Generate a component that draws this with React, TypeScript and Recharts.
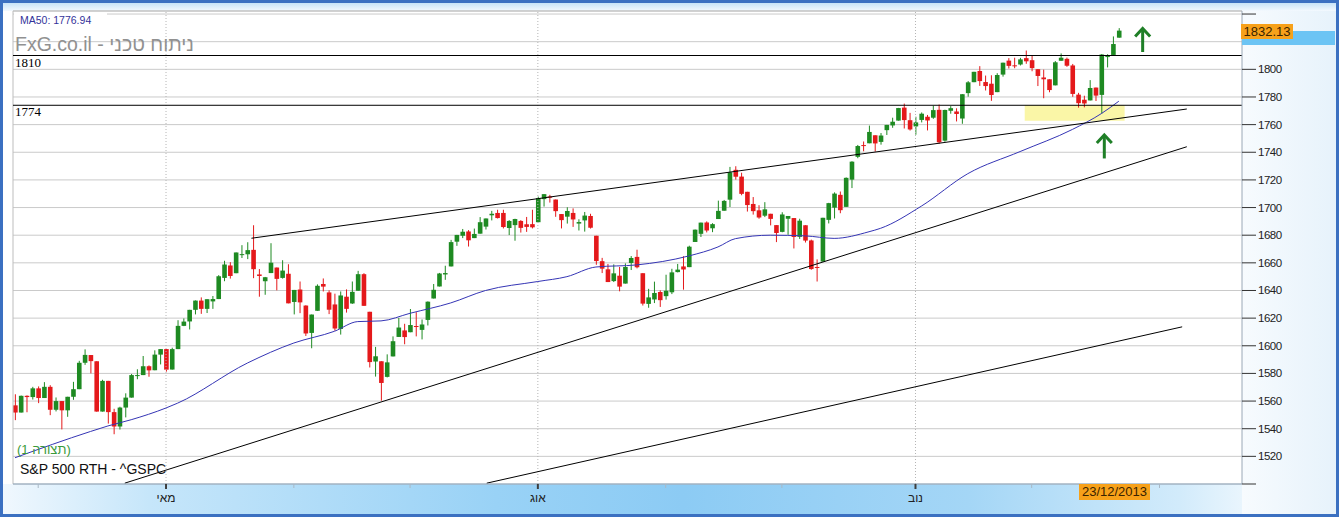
import React from "react";
import {
  ComposedChart,
  Bar,
  Line,
  XAxis,
  YAxis,
  CartesianGrid,
  ReferenceLine,
  ReferenceArea,
  ReferenceDot,
} from "recharts";

// S&P 500 daily candles 25/03/2013 .. 23/12/2013 : [open, high, low, close]
const candles: number[][] = [
  // Mar
  [1556.9, 1564.9, 1546.2, 1551.7], [1551.7, 1564.0, 1551.7, 1563.8], [1563.8, 1564.1, 1551.9, 1562.9],
  [1562.9, 1570.3, 1561.1, 1569.2],
  // Apr
  [1569.2, 1570.6, 1558.5, 1562.2], [1562.2, 1573.7, 1562.2, 1570.3], [1570.3, 1571.5, 1549.8, 1553.7],
  [1553.7, 1562.6, 1552.5, 1560.0], [1560.0, 1560.0, 1539.5, 1553.3], [1553.3, 1563.1, 1548.6, 1563.1],
  [1563.1, 1573.9, 1560.9, 1568.6], [1568.6, 1589.1, 1568.6, 1587.7], [1587.7, 1597.4, 1586.2, 1593.4],
  [1593.3, 1593.3, 1580.0, 1588.9], [1588.8, 1588.8, 1552.3, 1552.4], [1552.4, 1575.4, 1552.4, 1574.6],
  [1574.6, 1574.6, 1543.7, 1552.0], [1552.0, 1554.4, 1536.0, 1541.6], [1541.6, 1555.9, 1539.4, 1555.3],
  [1555.3, 1565.6, 1548.2, 1562.5], [1562.5, 1579.6, 1562.5, 1578.8], [1578.7, 1583.0, 1575.8, 1578.8],
  [1578.8, 1592.6, 1578.8, 1585.2], [1585.2, 1585.8, 1577.6, 1582.2], [1582.3, 1596.7, 1582.3, 1593.6],
  [1593.6, 1597.6, 1586.5, 1597.6],
  // May
  [1597.6, 1597.6, 1581.3, 1582.7], [1582.8, 1598.6, 1582.8, 1597.6], [1597.6, 1618.5, 1597.6, 1614.4],
  [1614.4, 1619.8, 1614.2, 1617.5], [1617.6, 1626.0, 1611.8, 1626.0], [1626.0, 1632.8, 1622.7, 1632.7],
  [1632.7, 1635.0, 1623.1, 1626.7], [1626.7, 1633.7, 1623.7, 1633.7], [1632.1, 1636.0, 1626.7, 1633.8],
  [1633.8, 1651.1, 1633.8, 1650.3], [1649.1, 1661.5, 1646.7, 1658.8], [1658.1, 1660.5, 1648.6, 1650.5],
  [1652.5, 1667.5, 1652.5, 1667.5], [1665.7, 1672.8, 1663.5, 1666.3], [1666.2, 1674.9, 1662.7, 1669.2],
  [1669.4, 1687.2, 1648.9, 1655.4], [1651.6, 1655.5, 1635.5, 1650.5], [1646.7, 1649.8, 1636.9, 1649.6],
  [1652.6, 1674.2, 1652.6, 1660.1], [1656.6, 1656.6, 1640.1, 1648.4], [1649.1, 1661.9, 1648.6, 1654.4],
  [1652.1, 1659.0, 1630.7, 1630.7],
  // Jun
  [1631.7, 1640.4, 1622.7, 1640.4], [1640.7, 1646.5, 1623.6, 1631.4], [1629.1, 1629.3, 1607.1, 1608.9],
  [1609.3, 1622.6, 1598.2, 1622.6], [1625.3, 1644.4, 1625.3, 1643.4], [1644.7, 1648.7, 1639.3, 1642.8],
  [1638.6, 1640.1, 1622.9, 1626.1], [1629.9, 1637.7, 1610.9, 1612.5], [1612.2, 1639.3, 1608.1, 1636.4],
  [1635.5, 1640.8, 1624.0, 1626.7], [1630.6, 1646.5, 1630.3, 1639.0], [1639.8, 1654.2, 1639.8, 1651.8],
  [1651.8, 1652.5, 1628.9, 1628.9], [1624.6, 1624.6, 1584.3, 1588.2], [1588.6, 1599.2, 1577.7, 1592.4],
  [1588.8, 1588.8, 1560.3, 1573.1], [1577.5, 1593.8, 1577.1, 1588.0], [1592.3, 1606.8, 1592.3, 1603.3],
  [1606.4, 1620.1, 1606.4, 1613.2], [1611.1, 1615.9, 1601.1, 1606.3],
  // Jul
  [1609.8, 1626.6, 1609.8, 1615.0], [1614.3, 1624.3, 1606.8, 1614.1], [1611.5, 1619.0, 1604.6, 1615.4],
  [1618.7, 1632.1, 1614.7, 1631.9], [1634.2, 1644.7, 1634.2, 1640.5], [1642.9, 1652.7, 1642.9, 1652.3],
  [1651.6, 1657.9, 1647.7, 1652.6], [1657.4, 1676.6, 1657.4, 1675.0], [1675.3, 1680.2, 1672.3, 1680.2],
  [1679.6, 1684.5, 1677.9, 1682.5], [1682.7, 1683.7, 1671.8, 1676.3], [1677.9, 1684.8, 1677.9, 1680.9],
  [1681.1, 1693.1, 1681.1, 1689.4], [1686.2, 1692.1, 1684.1, 1692.1], [1694.4, 1697.6, 1690.7, 1695.5],
  [1696.1, 1698.4, 1692.1, 1692.4], [1696.1, 1698.4, 1684.9, 1685.9], [1685.2, 1690.9, 1680.1, 1690.3],
  [1687.3, 1691.9, 1676.0, 1691.7], [1690.3, 1690.9, 1681.9, 1685.3], [1687.9, 1693.2, 1682.4, 1686.0],
  [1688.0, 1698.4, 1684.9, 1685.7],
  // Aug
  [1689.4, 1707.9, 1689.4, 1706.9], [1706.1, 1709.7, 1700.7, 1709.7], [1708.0, 1709.2, 1703.6, 1707.1],
  [1705.8, 1705.8, 1693.3, 1697.4], [1695.3, 1695.3, 1684.9, 1690.9], [1693.4, 1700.2, 1688.4, 1697.5],
  [1696.1, 1699.4, 1686.0, 1691.4], [1688.4, 1691.5, 1683.4, 1689.5], [1690.7, 1696.8, 1682.6, 1694.2],
  [1693.9, 1695.5, 1684.8, 1685.4], [1679.6, 1679.6, 1658.6, 1661.3], [1661.2, 1663.6, 1652.6, 1655.8],
  [1655.3, 1659.2, 1646.1, 1646.1], [1646.8, 1658.9, 1646.1, 1652.4], [1650.7, 1657.0, 1639.4, 1642.8],
  [1645.0, 1659.6, 1645.0, 1657.0], [1659.9, 1664.9, 1654.8, 1663.5], [1664.3, 1669.5, 1656.0, 1656.8],
  [1652.5, 1652.5, 1629.1, 1630.5], [1630.3, 1641.2, 1627.5, 1635.0], [1633.5, 1646.4, 1630.9, 1638.2],
  [1638.9, 1640.1, 1628.1, 1633.0],
  // Sep
  [1635.9, 1651.4, 1633.4, 1639.8], [1638.7, 1655.7, 1637.4, 1653.1], [1653.3, 1659.2, 1653.1, 1655.1],
  [1657.4, 1664.8, 1640.6, 1655.2], [1656.9, 1672.4, 1656.9, 1671.7], [1675.1, 1684.1, 1675.1, 1684.0],
  [1681.0, 1689.1, 1678.7, 1689.1], [1689.2, 1690.0, 1682.0, 1683.4], [1685.0, 1688.7, 1682.2, 1688.0],
  [1691.7, 1705.0, 1691.7, 1697.6], [1697.7, 1705.5, 1697.7, 1704.8], [1705.7, 1729.4, 1700.4, 1725.5],
  [1727.3, 1729.9, 1720.2, 1722.3], [1722.4, 1725.2, 1708.9, 1709.9], [1711.4, 1711.4, 1697.1, 1701.8],
  [1702.6, 1707.6, 1694.9, 1697.4], [1698.0, 1701.7, 1691.9, 1692.8], [1694.1, 1703.9, 1693.1, 1698.7],
  [1695.5, 1695.5, 1687.1, 1691.8], [1687.3, 1687.3, 1675.0, 1681.6],
  // Oct
  [1682.4, 1696.6, 1682.1, 1695.0], [1691.9, 1693.9, 1680.3, 1693.9], [1692.4, 1692.4, 1670.4, 1678.7],
  [1678.8, 1691.9, 1677.3, 1690.5], [1687.2, 1687.2, 1674.7, 1676.1], [1676.2, 1676.8, 1655.0, 1655.5],
  [1657.0, 1662.5, 1646.5, 1656.4], [1660.9, 1692.6, 1660.9, 1692.6], [1691.1, 1703.4, 1688.5, 1703.2],
  [1699.9, 1711.0, 1692.1, 1710.1], [1709.2, 1711.6, 1695.9, 1698.1], [1700.5, 1721.8, 1700.5, 1721.5],
  [1720.2, 1733.5, 1714.1, 1733.2], [1736.7, 1745.3, 1735.7, 1744.5], [1745.2, 1747.8, 1740.7, 1744.7],
  [1746.5, 1759.3, 1746.5, 1754.7], [1752.3, 1752.3, 1740.5, 1746.4], [1747.5, 1753.9, 1745.5, 1752.1],
  [1756.0, 1759.8, 1752.5, 1759.8], [1759.4, 1765.0, 1757.7, 1762.1], [1762.9, 1772.1, 1762.9, 1772.0],
  [1772.3, 1775.2, 1757.2, 1763.3], [1763.2, 1768.5, 1755.7, 1756.5],
  // Nov
  [1758.7, 1765.7, 1752.7, 1761.6], [1763.4, 1768.8, 1761.6, 1767.9], [1765.7, 1767.0, 1755.8, 1763.0],
  [1765.0, 1773.7, 1764.2, 1770.5], [1770.7, 1774.5, 1746.2, 1747.2], [1748.4, 1770.8, 1747.6, 1770.6],
  [1770.0, 1773.4, 1767.9, 1771.9], [1769.5, 1771.8, 1762.3, 1767.7], [1764.4, 1782.0, 1760.6, 1782.0],
  [1782.8, 1791.5, 1780.2, 1790.6], [1790.7, 1798.2, 1790.7, 1798.2], [1798.8, 1802.3, 1788.0, 1791.5],
  [1790.8, 1795.5, 1784.7, 1787.9], [1789.6, 1795.7, 1777.2, 1781.4], [1783.5, 1797.2, 1783.5, 1795.9],
  [1796.2, 1804.8, 1794.7, 1804.8], [1806.3, 1808.1, 1800.6, 1802.5], [1802.9, 1808.4, 1800.8, 1802.8],
  [1803.5, 1808.3, 1802.8, 1807.2], [1808.1, 1813.6, 1804.0, 1805.8],
  // Dec
  [1806.6, 1810.0, 1798.6, 1800.9], [1800.1, 1800.1, 1787.9, 1795.2], [1794.1, 1799.8, 1779.1, 1792.8],
  [1792.8, 1792.8, 1783.4, 1785.0], [1788.4, 1806.0, 1788.4, 1805.1], [1806.2, 1811.5, 1806.2, 1808.4],
  [1807.6, 1808.5, 1801.8, 1802.6], [1802.8, 1803.9, 1780.1, 1782.2], [1781.7, 1783.0, 1772.3, 1775.5],
  [1778.0, 1780.9, 1772.5, 1775.3], [1777.5, 1792.2, 1777.5, 1786.5], [1786.8, 1786.8, 1777.1, 1781.0],
  [1781.5, 1811.1, 1768.0, 1810.7], [1809.0, 1810.9, 1801.4, 1809.6], [1810.4, 1823.8, 1810.3, 1818.3],
  [1822.9, 1829.8, 1822.9, 1828.0],
];

// month starts (bar index), only three of them get a label
const monthTicks = [4, 26, 48, 68, 90, 112, 132, 155, 175, 197];
const monthLabels = ["", "מאי", "", "", "אוג", "", "", "נוב", "", ""];

const priceTicks = [
  1500, 1520, 1540, 1560, 1580, 1600, 1620, 1640, 1660, 1680, 1700, 1720, 1740, 1760, 1780,
  1800, 1820, 1840,
];
// 1500 / 1840 have no label, 1820 sits under the last-price marker
const hiddenPriceLabels = [1500, 1820, 1840];

// MA50
const maIdx = [0, 13, 16, 20, 26, 28, 40, 48, 55, 59, 63, 68, 75, 81, 90, 95, 100, 107, 116, 121, 124, 130, 136, 141, 147, 149, 156, 164, 173, 182, 187, 190];
const maVal = [1519, 1538, 1542, 1546.5, 1555, 1558.5, 1587.5, 1602, 1610.5, 1617.5, 1618, 1623.5, 1631, 1640, 1646.5, 1650, 1657, 1658.5, 1665, 1671.5, 1677.5, 1680, 1679.5, 1677.7, 1682.5, 1685, 1701, 1724.5, 1740.5, 1756.5, 1768, 1776.94];

const levels = [1810, 1774];

// trend lines: [bar1, price1, bar2, price2]
const trendLines = [
  [40.7, 1677.8, 201.7, 1771.3],
  [18.9, 1500.6, 201.7, 1744.0],
  [81.2, 1500.6, 200.9, 1613.7],
];

const zone = [173.8, 1762.8, 191, 1774.2];
const arrows = [
  [194.1, 1821.2],
  [187.5, 1744.2],
];

const X_DOMAIN = [-0.34, 211.2];
const Y_DOMAIN = [1500, 1842.2];

const GREEN = "#1e8a22";
const RED = "#e4191b";
const FONT = "Arial, 'Liberation Sans', sans-serif";

const data = candles.map(([open, high, low, close], i) => {
  const k = maIdx.indexOf(i);
  return { i, open, high, low, close, ma: k >= 0 ? maVal[k] : null };
});

const Candle = (props: any) => {
  const { x, y, width, height, payload } = props;
  if (!payload) return <g />;
  const { open, high, low, close } = payload;
  const span = high - low || 1;
  const py = (v: number) => y + ((high - v) / span) * height;
  const color = close >= open ? GREEN : RED;
  const cx = x + width / 2;
  const top = py(Math.max(open, close));
  const bottom = py(Math.min(open, close));
  return (
    <g>
      <line x1={cx} x2={cx} y1={y} y2={y + height} stroke={color} strokeWidth={1} />
      <rect x={cx - 2.3} y={top} width={4.6} height={Math.max(bottom - top, 1)} fill={color} />
    </g>
  );
};

const MonthTick = (props: any) => {
  const { x, y, payload } = props;
  const label = monthLabels[monthTicks.indexOf(payload.value)] || "";
  const major = label !== "";
  return (
    <g>
      <line
        x1={x}
        x2={x}
        y1={y}
        y2={y + (major ? 5 : 4)}
        stroke={major ? "#3d3d3d" : "#a9b8c6"}
        strokeWidth={major ? 2 : 1}
      />
      {major && (
        <text x={x} y={y + 18} textAnchor="middle" fontSize={12} fill="#222" fontFamily={FONT}>
          {label}
        </text>
      )}
    </g>
  );
};

const PriceTick = (props: any) => {
  const { x, y, payload } = props;
  const v = payload.value;
  if (hiddenPriceLabels.includes(v)) return <g />;
  return (
    <text x={x} y={y + 4} fontSize={11.5} letterSpacing={-0.5} fill="#222" fontFamily={FONT}>
      {v}
    </text>
  );
};

const Arrow = (props: any) => {
  const { cx, cy } = props;
  return (
    <g stroke="#1f7f27" strokeWidth={3} fill="none">
      <line x1={cx} y1={cy + 12} x2={cx} y2={cy - 11} />
      <polyline points={`${cx - 7.5},${cy - 3.5} ${cx},${cy - 11.5} ${cx + 7.5},${cy - 3.5}`} />
    </g>
  );
};

const abs = (l: number, t: number, w: number, h: number): React.CSSProperties => ({
  position: "absolute",
  left: l,
  top: t,
  width: w,
  height: h,
});

export default function App() {
  return (
    <div style={{ position: "absolute", left: 0, top: 0, width: 1339, height: 517, background: "#fff", fontFamily: FONT, overflow: "hidden" }}>
      {/* window backgrounds */}
      <div style={{ ...abs(0, 0, 1339, 11), background: "linear-gradient(to bottom, #b7dbf5, #f3f9fe)" }} />
      <div style={{ ...abs(1242, 11, 97, 506), background: "linear-gradient(to right, #f7fbfe, #e6f2fb)" }} />
      <div
        style={{
          ...abs(0, 484, 1242, 33),
          background:
            "linear-gradient(to right, #f1f8fe 0%, #c6e6fa 12%, #99d2f6 40%, #8ccbf4 55%, #a4d6f6 78%, #d2ebfb 95%, #e9f5fd 100%)",
        }}
      />

      <div style={{ position: "absolute", left: 0, top: 0 }}>
        <ComposedChart width={1339} height={517} data={data} margin={{ top: 11, right: 0, bottom: 0, left: 13 }}>
          <CartesianGrid vertical={false} stroke="#cacaca" />
          <XAxis
            dataKey="i"
            type="number"
            domain={X_DOMAIN}
            allowDataOverflow
            ticks={monthTicks}
            interval={0}
            height={33}
            tickSize={0}
            tickMargin={0}
            tickLine={false}
            axisLine={{ stroke: "#8ea6bd" }}
            tick={<MonthTick />}
          />
          <YAxis
            orientation="right"
            type="number"
            domain={Y_DOMAIN}
            allowDataOverflow
            ticks={priceTicks}
            interval={0}
            width={97}
            tickSize={14}
            tickMargin={2}
            tickLine={{ stroke: "#333" }}
            axisLine={{ stroke: "#9aa8b6" }}
            tick={<PriceTick />}
          />
          <ReferenceLine x={X_DOMAIN[0]} stroke="#bdbdbd" ifOverflow="visible" />
          <ReferenceLine y={Y_DOMAIN[1]} stroke="#bdbdbd" ifOverflow="visible" />
          {monthTicks
            .filter((t, k) => monthLabels[k] !== "")
            .map((t) => (
              <ReferenceLine key={t} x={t} stroke="#b5b5b5" strokeDasharray="1 2" />
            ))}

          <Bar
            dataKey={(d: any) => [d.low, d.high]}
            barSize={4.6}
            shape={<Candle />}
            isAnimationActive={false}
          />
          <Line
            dataKey="ma"
            type="monotone"
            stroke="#3535b5"
            strokeWidth={1}
            dot={false}
            activeDot={false}
            connectNulls
            isAnimationActive={false}
          />

          {trendLines.map(([a, b, c, d], k) => (
            <ReferenceLine
              key={"t" + k}
              segment={[
                { x: a, y: b },
                { x: c, y: d },
              ]}
              stroke="#000"
              strokeWidth={1}
              ifOverflow="visible"
            />
          ))}
          {levels.map((v) => (
            <ReferenceLine
              key={v}
              y={v}
              stroke="#000"
              strokeWidth={1}
              label={{
                value: String(v),
                position: "insideTopLeft",
                offset: 2,
                fontSize: 13,
                fill: "#000",
                fontFamily: "'Liberation Serif', 'Times New Roman', serif",
              }}
            />
          ))}
          <ReferenceArea
            x1={zone[0]}
            x2={zone[2]}
            y1={zone[1]}
            y2={zone[3]}
            fill="#f5ea3c"
            fillOpacity={0.45}
            stroke="none"
            ifOverflow="visible"
          />
          {arrows.map(([ax, ay], k) => (
            <ReferenceDot key={"a" + k} x={ax} y={ay} r={1} ifOverflow="visible" shape={<Arrow />} />
          ))}
        </ComposedChart>
      </div>

      {/* labels */}
      <div style={{ ...abs(14, 12, 93, 17), background: "#fff" }} />
      <div style={{ position: "absolute", left: 20, top: 14, fontSize: 10.5, color: "#33339a", whiteSpace: "nowrap" }}>
        MA50: 1776.94
      </div>
      <div style={{ position: "absolute", left: 15, top: 33, fontSize: 19.5, color: "#919191", whiteSpace: "nowrap" }}>
        FxG.co.il - ניתוח טכני
      </div>
      <div style={{ position: "absolute", left: 17, top: 442, fontSize: 13, color: "#3a9a3a", whiteSpace: "nowrap" }}>
        (1 תצורה)
      </div>
      <div style={{ position: "absolute", left: 20, top: 461, fontSize: 14, color: "#111", whiteSpace: "nowrap" }}>
        S&amp;P 500 RTH - ^GSPC
      </div>

      <div style={{ ...abs(1242, 31, 93, 14), background: "#6cc4f4" }} />
      <div
        style={{
          ...abs(1241, 24, 52, 15),
          background: "#f7a11a",
          fontSize: 13,
          lineHeight: "15px",
          color: "#3a2300",
          textAlign: "center",
        }}
      >
        1832.13
      </div>
      <div
        style={{
          ...abs(1079, 484, 71, 16),
          background: "#f7a11a",
          fontSize: 13,
          lineHeight: "16px",
          color: "#3a2300",
          textAlign: "center",
        }}
      >
        23/12/2013
      </div>

      {/* window frame */}
      <div style={{ ...abs(0, 0, 1339, 517), boxSizing: "border-box", border: "3px solid #3b70c1", pointerEvents: "none" }} />
    </div>
  );
}
